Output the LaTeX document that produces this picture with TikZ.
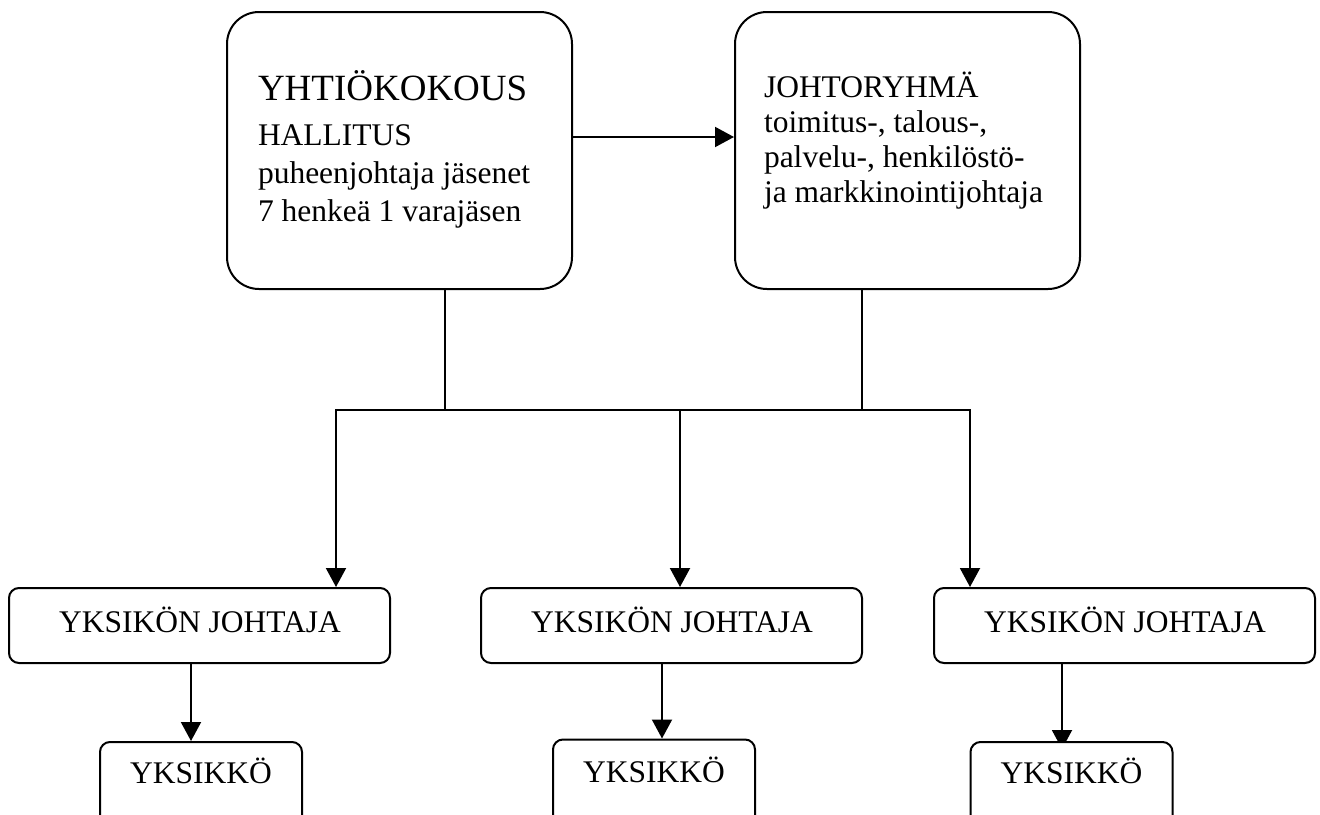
\documentclass[tikz,border=0pt]{standalone}
\usepackage{fontspec}
\setmainfont{Liberation Serif}
\usetikzlibrary{arrows.meta,backgrounds}
\begin{document}
\begin{tikzpicture}[x=1pt,y=-1pt,line width=2pt,
  topbox/.style={draw,fill=white,rounded corners=32pt,inner sep=0pt,minimum width=345pt,minimum height=277pt},
  midbox/.style={draw,fill=white,rounded corners=10pt,inner sep=0pt,minimum width=381pt,minimum height=75pt},
  unitbox/.style={draw,fill=white,rounded corners=10pt,inner sep=0pt,minimum width=202pt,minimum height=90pt},
  lefttxt/.style={anchor=base west,inner sep=0pt,font=\fontsize{31.5}{36}\selectfont},
  headtxt/.style={lefttxt,font=\fontsize{37}{42}\selectfont},
  midtxt/.style={anchor=base,inner sep=0pt,font=\fontsize{31.5}{36}\selectfont},
  link/.style={draw,line width=2pt},
  arr/.style={link,-{Triangle[length=19pt,width=20pt]}}]
\useasboundingbox (0,0) rectangle (1320,814);
\clip (0,0) rectangle (1320,814);

% top level: board and management group
\node[topbox] (hall) at (399.5,150.5) {};
\node[topbox] (johto) at (907.5,150.5) {};
\node[headtxt] (h1) at (257,100) {YHTIÖKOKOUS};
\node[lefttxt] (h2) at (257,145) {HALLITUS};
\node[lefttxt] (h3) at (257,183) {puheenjohtaja jäsenet};
\node[lefttxt] (h4) at (257,221) {7 henkeä 1 varajäsen};
\node[lefttxt] (j1) at (763,97) {JOHTORYHMÄ};
\node[lefttxt] (j2) at (763,132) {toimitus-, talous-,};
\node[lefttxt] (j3) at (763,167) {palvelu-, henkilöstö-};
\node[lefttxt] (j4) at (763,202) {ja markkinointijohtaja};

% unit managers
\node[midbox] (jo1) at (199.5,625.5) {};
\node[midbox] (jo2) at (671.5,625.5) {};
\node[midbox] (jo3) at (1124.5,625.5) {};
\node[midtxt] (t1) at (200,632) {YKSIKÖN JOHTAJA};
\node[midtxt] (t2) at (672,632) {YKSIKÖN JOHTAJA};
\node[midtxt] (t3) at (1125,632) {YKSIKÖN JOHTAJA};

% units
\node[unitbox] (yk1) at (201,787) {};
\node[unitbox] (yk2) at (654,784.5) {};
\node[unitbox] (yk3) at (1071.5,787) {};
\node[midtxt] (u1) at (201,783) {YKSIKKÖ};
\node[midtxt] (u2) at (654,782) {YKSIKKÖ};
\node[midtxt] (u3) at (1071.5,783) {YKSIKKÖ};

% connectors
\coordinate (row) at (0,137);
\coordinate (jl) at (445,410);
\coordinate (jr) at (862,410);
\coordinate (b1) at (336,410);
\coordinate (b2) at (680,410);
\coordinate (b3) at (970,410);
\coordinate (d1) at (191,0);
\coordinate (d2) at (662,0);
\coordinate (d3) at (1062,0);
\begin{scope}[on background layer]
  \fill[white] (0,0) rectangle (1320,814);
  \path[arr] (hall.east |- row) -- (johto.west |- row);
  \path[link] (hall.south -| jl) -- (jl);
  \path[link] (johto.south -| jr) -- (jr);
  \path[link,line cap=rect] (b1) -- (b3);
  \path[arr] (b1) -- (jo1.north -| b1);
  \path[arr] (b2) -- (jo2.north -| b2);
  \path[arr] (b3) -- (jo3.north -| b3);
  \path[arr] (jo1.south -| d1) -- (yk1.north -| d1);
  \path[arr] (jo2.south -| d2) -- (yk2.north -| d2);
  \path[arr,shorten >=-8pt] (jo3.south -| d3) -- (yk3.north -| d3);
\end{scope}
\end{tikzpicture}
\end{document}
